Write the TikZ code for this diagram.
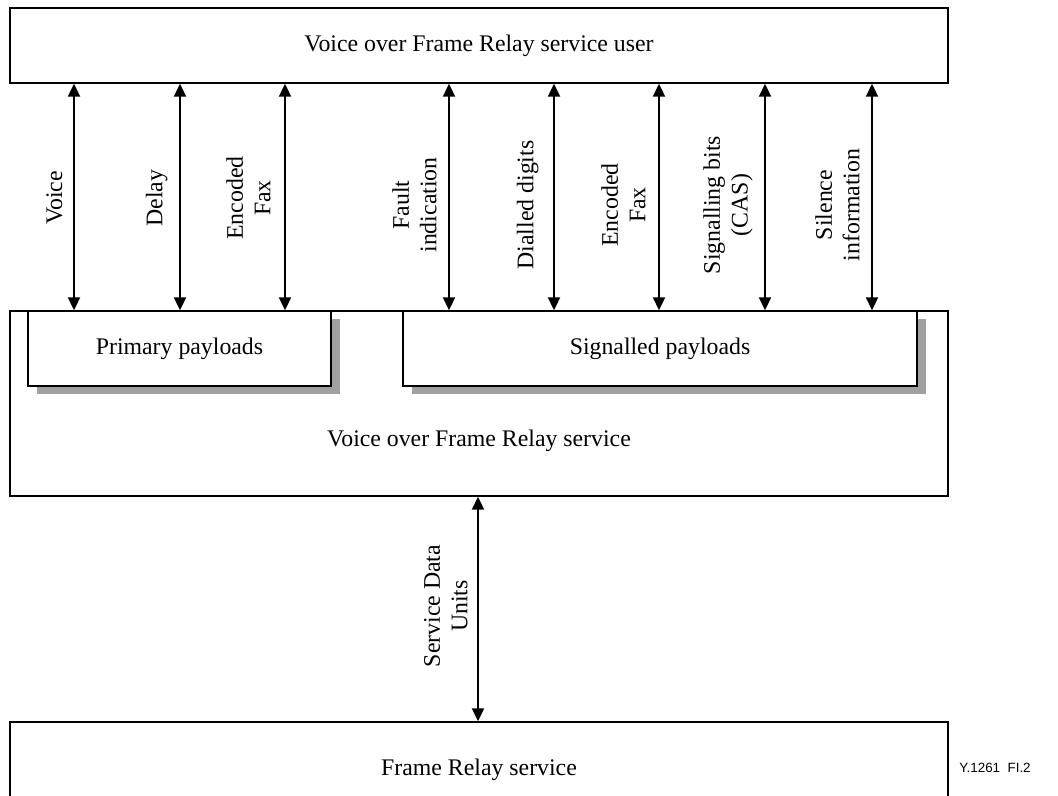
\documentclass[tikz,border=0pt]{standalone}
\usepackage{fontspec}
\setmainfont{Liberation Serif}
\newfontfamily\figsans{Liberation Sans}
\usetikzlibrary{arrows.meta,shadows}
\definecolor{shadowgray}{RGB}{160,160,160}
\begin{document}
\begin{tikzpicture}[x=0.5pt,y=-0.5pt,
  font=\fontsize{11.9}{13.8}\selectfont,
  box/.style={draw=black, line width=0.7pt, fill=white, inner sep=0pt},
  payload/.style={box, copy shadow={shadow xshift=4.25pt, shadow yshift=-4pt, draw=none, fill=shadowgray}},
  flow/.style={{Triangle[length=6.5pt,width=6pt]}-{Triangle[length=6.5pt,width=6pt]}, line width=1pt},
  tag/.style={rotate=90, anchor=south, align=center, inner sep=0pt}]
\useasboundingbox (0,0) rectangle (1058,796);

% service layers
\node[box, minimum width=469pt, minimum height=37.5pt] (user) at (479,45.5) {Voice over Frame Relay service user};
\node[box, minimum width=469pt, minimum height=92.5pt] (vofr) at (479,403.5) {};
\node (vofrtext) at (479,441) {Voice over Frame Relay service};
\node[payload, minimum width=151.5pt, minimum height=37.5pt] (prim) at (179.5,348.5) {Primary payloads};
\node[payload, minimum width=257pt, minimum height=37.5pt] (sig) at (660,348.5) {Signalled payloads};
\node[box, minimum width=469pt, minimum height=48pt] (fr) at (479,770) {Frame Relay service};
\node[font=\figsans\fontsize{6.7}{8}\selectfont, anchor=west, inner sep=0pt] (figid) at (959,768) {Y.1261\ \ FI.2};

% columns of the exchanged information
\coordinate (c1) at (74,0);
\coordinate (c2) at (180,0);
\coordinate (c3) at (285,0);
\coordinate (c4) at (449,0);
\coordinate (c5) at (554,0);
\coordinate (c6) at (659,0);
\coordinate (c7) at (765,0);
\coordinate (c8) at (872,0);
\coordinate (c9) at (478,0);

\foreach \c in {c1,c2,c3}
  \draw[flow] (\c |- user.south) -- (\c |- prim.north);
\foreach \c in {c4,c5,c6,c7,c8}
  \draw[flow] (\c |- user.south) -- (\c |- sig.north);
\draw[flow] (c9 |- vofr.south) -- (c9 |- fr.north);

% labels
\node[tag] (lvoice) at (63,198) {Voice};
\node[tag] (ldelay) at (168,198) {Delay};
\node[tag] (lfax1) at (271,198) {Encoded\\Fax};
\node[tag] (lfault) at (437,205) {Fault\\indication};
\node[tag] (ldigits) at (539,205) {Dialled digits};
\node[tag] (lfax2) at (646,205) {Encoded\\Fax};
\node[tag] (lcas) at (753,205) {Signalling bits\\(CAS)};
\node[tag] (lsil) at (860,205) {Silence\\information};
\node[tag] (lsdu) at (468,606) {Service Data\\Units};
\end{tikzpicture}
\end{document}
